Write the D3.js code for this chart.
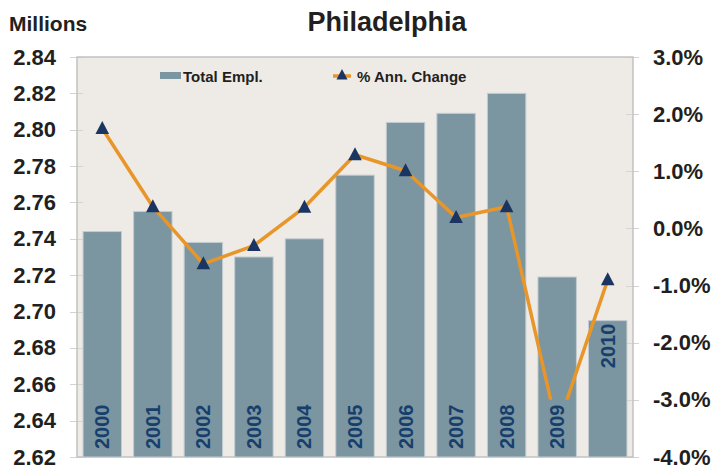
<!DOCTYPE html>
<html lang="en">
<head>
    <meta charset="UTF-8">
    <title>Philadelphia</title>
    <script src="https://d3js.org/d3.v7.min.js"></script>
    <style>
        body {
            margin: 0;
            padding: 0;
            background: #fff;
            font-family: "Liberation Sans", Arial, sans-serif;
        }
        svg {
            display: block;
        }
        .axis text {
            font-size: 22px;
            font-weight: bold;
            fill: #231f20;
            font-family: "Liberation Sans", Arial, sans-serif;
        }
        .axis line {
            stroke: #d4d4d4;
            shape-rendering: crispEdges;
        }
        .year-label {
            font-size: 20px;
            font-weight: bold;
            fill: #173f6c;
        }
        .legend text {
            font-size: 15px;
            font-weight: bold;
            fill: #231f20;
        }
    </style>
</head>
<body>
    <svg width="713" height="468"></svg>

    <script>
        const years = [2000, 2001, 2002, 2003, 2004, 2005, 2006, 2007, 2008, 2009, 2010];
        // total employment, millions (left axis)
        const totalEmpl = [2.744, 2.755, 2.738, 2.730, 2.740, 2.775, 2.804, 2.809, 2.820, 2.719, 2.695];
        // annual change, percent (right axis)
        const annChange = [1.75, 0.38, -0.62, -0.30, 0.37, 1.29, 1.01, 0.19, 0.38, -3.5, -0.90];

        const leftTicks = [2.62, 2.64, 2.66, 2.68, 2.70, 2.72, 2.74, 2.76, 2.78, 2.80, 2.82, 2.84];
        const rightTicks = [-4, -3, -2, -1, 0, 1, 2, 3];
        const seriesNames = ["Total Empl.", "% Ann. Change"];

        const barColor = "#7b95a1";
        const lineColor = "#e8962a";
        const markerColor = "#1b3562";

        const plot = { left: 77, right: 633, top: 57, bottom: 457 };

        const svg = d3.select("svg");

        const x = d3.scaleBand()
            .domain(years)
            .range([plot.left, plot.right])
            .paddingInner(0.24)
            .paddingOuter(0.12);

        const yL = d3.scaleLinear()
            .domain([2.62, 2.84])
            .range([plot.bottom, plot.top]);

        const yR = d3.scaleLinear()
            .domain([-4, 3])
            .range([plot.bottom, plot.top]);

        // plot background
        svg.append("rect")
            .attr("x", plot.left)
            .attr("y", plot.top)
            .attr("width", plot.right - plot.left)
            .attr("height", plot.bottom - plot.top)
            .attr("fill", "#eeeae6");

        // axes
        svg.append("g")
            .attr("class", "axis")
            .attr("transform", `translate(${plot.left + 6},0)`)
            .call(d3.axisLeft(yL).tickValues(leftTicks).tickFormat(d3.format(".2f")).tickSize(13).tickPadding(14))
            .call(g => g.select(".domain").remove());

        svg.append("g")
            .attr("class", "axis")
            .attr("transform", `translate(${plot.right - 7},0)`)
            .call(d3.axisRight(yR).tickValues(rightTicks).tickFormat(d => d3.format(".1f")(d) + "%").tickSize(13).tickPadding(14))
            .call(g => g.select(".domain").remove())
            .selectAll("text").text(d => (d < 0 ? "-" : "") + Math.abs(d).toFixed(1) + "%");

        // plot border
        svg.append("rect")
            .attr("x", plot.left)
            .attr("y", plot.top)
            .attr("width", plot.right - plot.left)
            .attr("height", plot.bottom - plot.top)
            .attr("fill", "none")
            .attr("stroke", "#c2c2c2")
            .attr("stroke-width", 1.5);

        // bars
        svg.selectAll(".bar")
            .data(years)
            .enter()
            .append("rect")
            .attr("class", "bar")
            .attr("x", d => x(d))
            .attr("y", (d, i) => yL(totalEmpl[i]))
            .attr("width", x.bandwidth())
            .attr("height", (d, i) => plot.bottom - yL(totalEmpl[i]))
            .attr("fill", barColor)
            .attr("stroke", "#c3ccd0")
            .attr("stroke-width", 1);

        // year labels inside bars
        svg.selectAll(".year-label")
            .data(years)
            .enter()
            .append("text")
            .attr("class", "year-label")
            .attr("transform", (d, i) => {
                const cx = x(d) + x.bandwidth() / 2;
                const cy = i === years.length - 1 ? yL(totalEmpl[i]) + 3 : plot.bottom - 8;
                return `translate(${cx},${cy}) rotate(-90)`;
            })
            .attr("text-anchor", (d, i) => i === years.length - 1 ? "end" : "start")
            .attr("dominant-baseline", "central")
            .text(d => d);

        // line, clipped at the -3% level like the original
        svg.append("clipPath")
            .attr("id", "line-clip")
            .append("rect")
            .attr("x", plot.left)
            .attr("y", plot.top)
            .attr("width", plot.right - plot.left)
            .attr("height", yR(-3) - plot.top);

        const line = d3.line()
            .x((d, i) => x(years[i]) + x.bandwidth() / 2)
            .y(d => yR(d));

        svg.append("path")
            .datum(annChange)
            .attr("d", line)
            .attr("fill", "none")
            .attr("stroke", lineColor)
            .attr("stroke-width", 3.5)
            .attr("stroke-linejoin", "round")
            .attr("clip-path", "url(#line-clip)");

        const tri = "M0,-7.5L6.8,5.5L-6.8,5.5Z";

        svg.append("g")
            .attr("clip-path", "url(#line-clip)")
            .selectAll("path")
            .data(annChange)
            .enter()
            .append("path")
            .attr("d", tri)
            .attr("transform", (d, i) => `translate(${x(years[i]) + x.bandwidth() / 2},${yR(d)})`)
            .attr("fill", markerColor);

        // legend
        const legend = svg.append("g").attr("class", "legend");

        legend.append("rect")
            .attr("x", 160)
            .attr("y", 72)
            .attr("width", 21)
            .attr("height", 7)
            .attr("fill", barColor);

        legend.append("text")
            .attr("x", 183)
            .attr("y", 81.5)
            .text(seriesNames[0]);

        legend.append("line")
            .attr("x1", 333)
            .attr("x2", 351)
            .attr("y1", 76)
            .attr("y2", 76)
            .attr("stroke", lineColor)
            .attr("stroke-width", 3.5);

        legend.append("path")
            .attr("d", "M0,-6L5.5,4.5L-5.5,4.5Z")
            .attr("transform", "translate(342,75)")
            .attr("fill", markerColor);

        legend.append("text")
            .attr("x", 357)
            .attr("y", 81.5)
            .text(seriesNames[1]);

        // titles
        svg.append("text")
            .attr("x", 387)
            .attr("y", 31)
            .attr("text-anchor", "middle")
            .attr("font-size", "27px")
            .attr("font-weight", "bold")
            .attr("fill", "#231f20")
            .text("Philadelphia");

        svg.append("text")
            .attr("x", 9)
            .attr("y", 31)
            .attr("font-size", "21px")
            .attr("font-weight", "bold")
            .attr("fill", "#231f20")
            .text("Millions");
    </script>
</body>
</html>
